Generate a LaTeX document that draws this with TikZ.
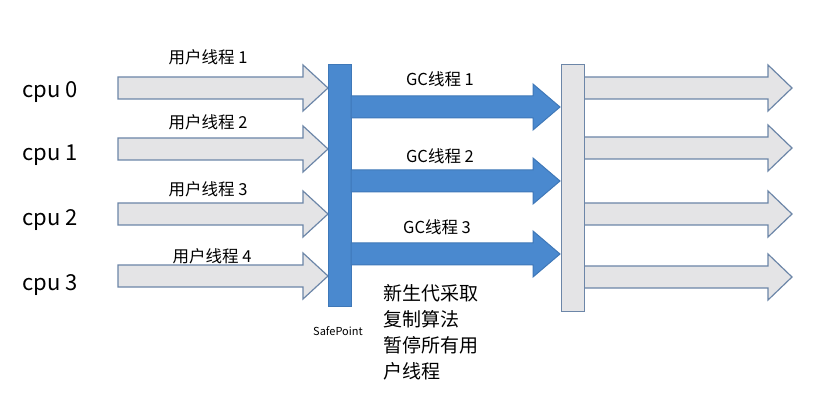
\documentclass[tikz,border=0pt]{standalone}
\usepackage{fontspec}
\setmainfont{Noto Sans CJK SC}
\definecolor{gfill}{HTML}{E4E4E6}
\definecolor{gline}{HTML}{6C86A8}
\definecolor{bfill}{HTML}{4A89CF}
\definecolor{bline}{HTML}{3F78B8}
\begin{document}
\begin{tikzpicture}[x=1pt,y=-1pt,
  gray/.style={fill=gfill,draw=gline,line width=1.2pt},
  blue/.style={fill=bfill,draw=bline,line width=1pt},
  lbl/.style={font=\fontsize{16.5}{16.5}\selectfont,inner sep=0pt},
  cpu/.style={font=\fontsize{22}{22}\selectfont,inner sep=0pt,anchor=west}]
\useasboundingbox (0,0) rectangle (816,403);
\newcommand\blockarr[5]{% style, x1, headbase, tip, yc
  \draw[#1] (#2,#5-11) -- (#3,#5-11) -- (#3,#5-23) -- (#4,#5) -- (#3,#5+23) -- (#3,#5+11) -- (#2,#5+11) -- cycle;}
\foreach \y in {88,149,214,276}{\blockarr{gray}{118}{303}{328}{\y}}
\foreach \y in {88,148,214,277}{\blockarr{gray}{584}{768}{792}{\y}}
\draw[blue] (328,65) rectangle (351,306);
\foreach \y in {107,181,254}{\blockarr{blue}{351}{533}{560}{\y}}
\draw[gray,line width=1pt] (561,65) rectangle (584,311);
\node[cpu] (c0) at (22,92) {cpu 0};
\node[cpu] (c1) at (22,155) {cpu 1};
\node[cpu] (c2) at (22,220) {cpu 2};
\node[cpu] (c3) at (22,285) {cpu 3};
\node[lbl] (u1) at (208,57) {用户线程 1};
\node[lbl] (u2) at (208,122) {用户线程 2};
\node[lbl] (u3) at (208,189) {用户线程 3};
\node[lbl] (u4) at (212,256) {用户线程 4};
\node[lbl] (g1) at (440,79) {GC线程 1};
\node[lbl] (g2) at (440,156) {GC线程 2};
\node[lbl] (g3) at (437,227) {GC线程 3};
\node[font=\fontsize{11}{11}\selectfont,inner sep=0pt] (sp) at (338,331) {SafePoint};
\node[lbl,anchor=north west,align=left,font=\fontsize{19}{26}\selectfont] (note) at (383,284) {新生代采取\\复制算法\\暂停所有用\\户线程};
\end{tikzpicture}
\end{document}
